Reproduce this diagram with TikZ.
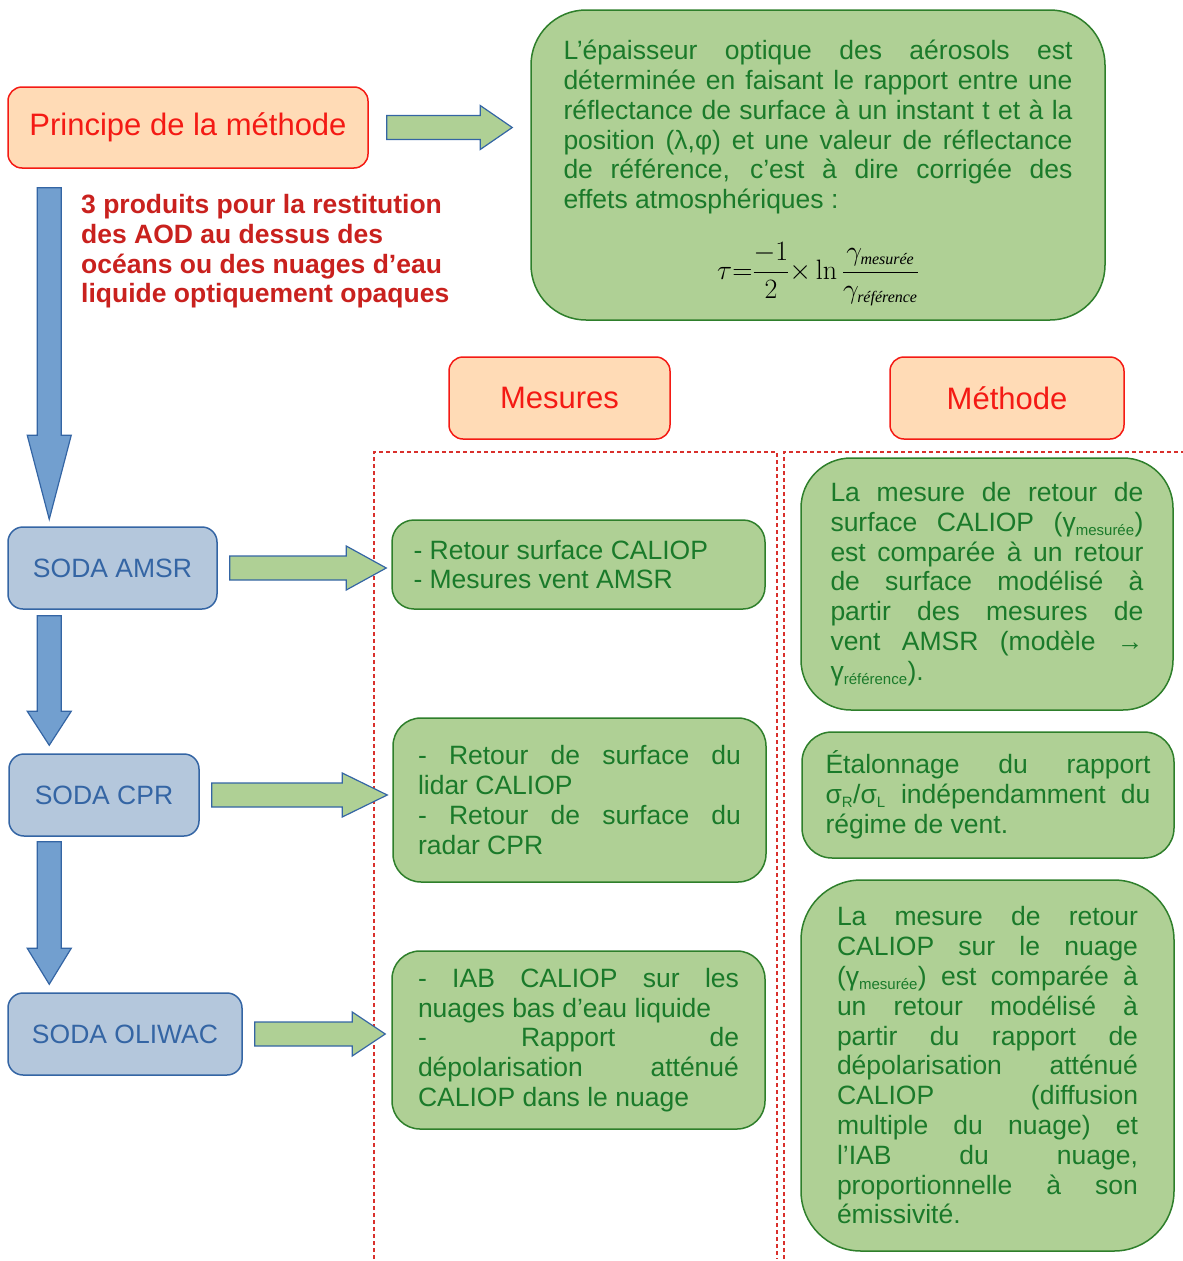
\documentclass[tikz,border=0pt]{standalone}
\usepackage{fix-cm}
\usepackage{amsmath}
\usepackage[no-math]{fontspec}
\setmainfont{Liberation Sans}
\newfontfamily\fserif{Liberation Serif}
\usepackage{tikz}
\usetikzlibrary{calc}

\definecolor{peach}{HTML}{FFDBB6}
\definecolor{hdred}{HTML}{F41A14}
\definecolor{notered}{HTML}{C9211E}
\definecolor{sodafill}{HTML}{B4C7DC}
\definecolor{sodaline}{HTML}{3465A4}
\definecolor{arrowblue}{HTML}{729FCF}
\definecolor{gfill}{HTML}{AFD095}
\definecolor{gline}{HTML}{2E7F2B}
\definecolor{gtext}{HTML}{1A7A2A}
\definecolor{sepred}{HTML}{D9302C}

\newcommand{\bodyfont}{\fontsize{26.5}{29.8}\selectfont}
\newcommand{\headfont}{\fontsize{31}{37}\selectfont}
\newcommand{\idx}[1]{\textsubscript{\fontsize{15}{15}\selectfont #1}}
\newcommand{\subtxt}[1]{\mbox{\fserif\itshape\fontsize{16}{16}\selectfont #1}}
\newcommand{\rightblock}[3]{\draw[harrow] ($(#1)+(0,-12)$) -- ($(#2)+(-#3,-12)$) -- ($(#2)+(-#3,-22)$) -- (#2) -- ($(#2)+(-#3,22)$) -- ($(#2)+(-#3,12)$) -- ($(#1)+(0,12)$) -- cycle;}
\newcommand{\downblock}[3]{\draw[varrow] ($(#1)+(-12,0)$) -- ($(#2)+(-12,-#3)$) -- ($(#2)+(-22,-#3)$) -- (#2) -- ($(#2)+(22,-#3)$) -- ($(#2)+(12,-#3)$) -- ($(#1)+(12,0)$) -- cycle;}

\hyphenpenalty=10000
\exhyphenpenalty=10000
\tolerance=10000

\tikzset{
  hdr/.style={draw=hdred, fill=peach, text=hdred, line width=1.5pt, rounded corners=14pt, font=\headfont},
  soda/.style={draw=sodaline, fill=sodafill, text=sodaline, line width=1.5pt, rounded corners=15pt, minimum height=82pt, font=\bodyfont},
  gbox/.style={draw=gline, fill=gfill, text=gtext, line width=1.5pt, align=justify, font=\bodyfont, inner ysep=4pt},
  harrow/.style={draw=sodaline, fill=gfill, line width=1.2pt},
  varrow/.style={draw=sodaline, fill=arrowblue, line width=1.2pt},
  colsep/.style={draw=sepred, line width=1.8pt, dash pattern=on 4pt off 3pt}
}

\begin{document}
\begin{tikzpicture}[x=1pt, y=-1pt]
\useasboundingbox (0,0) rectangle (1183,1261);

\draw[colsep] (374,1259) -- (374,452) -- (777,452) -- (777,1259);
\draw[colsep] (784,1259) -- (784,452) -- (1183,452);

\node[hdr, minimum width=360pt, minimum height=81pt] (princ) at (188,127.5) {Principe de la méthode};
\node[hdr, minimum width=221pt, minimum height=82pt] (mes) at (559.5,398) {Mesures};
\node[hdr, minimum width=234pt, minimum height=82pt] (met) at (1007,398) {Méthode};

\node[gbox, rounded corners=55pt, text width=509pt, inner xsep=32.5pt, minimum height=310pt] (aot) at (818,165) {L’épaisseur optique des aérosols est\linebreak déterminée en faisant le rapport entre une\linebreak réflectance de surface à un instant t et à la\linebreak position (λ,φ) et une valeur de réflectance\linebreak de référence, c’est à dire corrigée des\linebreak effets atmosphériques :\par\vspace{27pt}{\centering\color{black}\fontsize{28}{30}\selectfont$\displaystyle\tau{=}\frac{-1}{2}{\times}\ln\frac{\gamma_{\subtxt{mesurée}}}{\gamma_{\subtxt{référence}}}$\par}\vspace{-16pt}};

\node[anchor=north west, inner sep=0pt, align=left, text=notered, font=\bfseries\bodyfont] (note) at (81,194) {3 produits pour la restitution\\des AOD au dessus des\\océans ou des nuages d’eau\\liquide optiquement opaques};

\node[soda, minimum width=209pt] (amsr) at (112.5,568) {SODA AMSR};
\node[soda, minimum width=190pt] (cpr) at (104,795) {SODA CPR};
\node[soda, minimum width=234pt] (oliwac) at (125,1034) {SODA OLIWAC};

\node[gbox, rounded corners=22pt, text width=330pt, inner xsep=21.5pt, minimum height=89pt] (mes1) at (578.5,564.5) {- Retour surface CALIOP\par - Mesures vent AMSR};
\node[gbox, rounded corners=28pt, text width=323pt, inner xsep=25pt, minimum height=164pt] (mes2) at (579.5,800) {- Retour de surface du\linebreak lidar CALIOP\par - Retour de surface du\linebreak radar CPR};
\node[gbox, rounded corners=28pt, text width=321pt, inner xsep=26pt, minimum height=178pt] (mes3) at (578.5,1040) {- IAB CALIOP sur les\linebreak nuages bas d’eau liquide\par - Rapport de\linebreak dépolarisation atténué\linebreak CALIOP dans le nuage};

\node[gbox, rounded corners=50pt, text width=313pt, inner xsep=29.5pt, minimum height=252pt] (met1) at (987,584) {La mesure de retour de\linebreak surface CALIOP (γ\idx{mesurée})\linebreak est comparée à un retour\linebreak de surface modélisé à\linebreak partir des mesures de\linebreak vent AMSR (modèle →\linebreak γ\idx{référence}).};
\node[gbox, rounded corners=30pt, text width=325pt, inner xsep=23.5pt, minimum height=126pt] (met2) at (988,795) {Étalonnage du rapport\linebreak σ\idx{R}/σ\idx{L} indépendamment du\linebreak régime de vent.};
\node[gbox, rounded corners=60pt, text width=301pt, inner xsep=36pt, minimum height=371pt] (met3) at (987.5,1065.5) {La mesure de retour\linebreak CALIOP sur le nuage\linebreak (γ\idx{mesurée}) est comparée à\linebreak un retour modélisé à\linebreak partir du rapport de\linebreak dépolarisation atténué\linebreak CALIOP (diffusion\linebreak multiple du nuage) et\linebreak l’IAB du nuage,\linebreak proportionnelle à son\linebreak émissivité.};

\coordinate (p0) at ($(princ.east)+(18,0)$);
\coordinate (p1) at ($(aot.west |- princ.east)+(-18,0)$);
\coordinate (a0) at ($(amsr.east)+(12,0)$);
\coordinate (a1) at ($(mes1.west |- amsr.east)+(-5,0)$);
\coordinate (c0) at ($(cpr.east)+(12,0)$);
\coordinate (c1) at ($(mes2.west |- cpr.east)+(-5,0)$);
\coordinate (o0) at ($(oliwac.east)+(12,0)$);
\coordinate (o1) at ($(mes3.west |- oliwac.east)+(-6,0)$);
\rightblock{p0}{p1}{32}
\rightblock{a0}{a1}{40}
\rightblock{c0}{c1}{45}
\rightblock{o0}{o1}{33}

\coordinate (d0) at ($(princ.south west)+(42,19)$);
\coordinate (d1) at ($(amsr.north west)+(42,-7)$);
\coordinate (d2) at ($(amsr.south west)+(42,6)$);
\coordinate (d3) at ($(cpr.north west)+(41,-8)$);
\coordinate (d4) at ($(cpr.south west)+(41,5)$);
\coordinate (d5) at ($(oliwac.north west)+(42,-8)$);
\downblock{d0}{d1}{84}
\downblock{d2}{d3}{34}
\downblock{d4}{d5}{36}
\end{tikzpicture}
\end{document}
